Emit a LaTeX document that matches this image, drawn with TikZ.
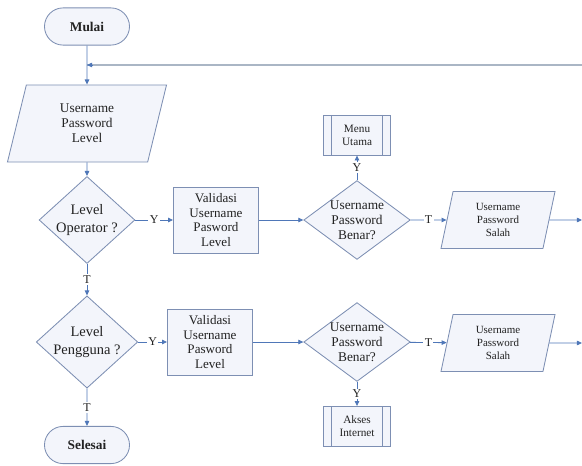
\documentclass[tikz,border=0pt]{standalone}
\usepackage{fontspec}
\setmainfont{LiberationSerif}[Extension=.ttf,UprightFont=*-Regular,BoldFont=*-Bold]
\usetikzlibrary{positioning,shapes.geometric,shapes.misc,arrows.meta}
\definecolor{rim}{HTML}{7D8FB3}
\definecolor{paper}{HTML}{F3F5FB}
\definecolor{flow}{HTML}{4F77B8}
\definecolor{loopback}{HTML}{AAB6C5}
\definecolor{ink}{HTML}{222222}

\begin{document}
\begin{tikzpicture}[x=0.025cm,y=-0.025cm,
        base/.style={draw=rim,fill=paper,line width=0.6pt,align=center,inner sep=0pt,text=ink},
        term/.style={base,rounded rectangle,minimum width=2.125cm,minimum height=0.93cm,
          font=\fontsize{9.5}{11}\selectfont\bfseries},
        io/.style={base,trapezium,trapezium stretches body,trapezium left angle=64,
          trapezium right angle=116,minimum width=3.975cm,minimum height=1.925cm,
          font=\fontsize{9.5}{10.6}\selectfont},
        iosmall/.style={base,trapezium,trapezium stretches body,trapezium left angle=70,
          trapezium right angle=110,minimum width=2.85cm,minimum height=1.425cm,
          font=\fontsize{7.8}{9.2}\selectfont},
        ask/.style={base,diamond,aspect=1.1,minimum width=2.125cm,minimum height=1.9cm,
          font=\fontsize{10.3}{12.8}\selectfont},
        check/.style={base,diamond,aspect=1.35,minimum width=2.6cm,minimum height=1.925cm,
          font=\fontsize{9.5}{10.6}\selectfont},
        proc/.style={base,rectangle,minimum width=2.125cm,minimum height=1.65cm,
          font=\fontsize{9.3}{10.6}\selectfont},
        sub/.style={base,rectangle,minimum width=1.675cm,minimum height=1cm,
          font=\fontsize{8}{9.2}\selectfont,
          path picture={
            \draw[rim,line width=0.5pt] ([xshift=5.7pt]path picture bounding box.north west)
              -- ([xshift=5.7pt]path picture bounding box.south west);
            \draw[rim,line width=0.5pt] ([xshift=-5.7pt]path picture bounding box.north east)
              -- ([xshift=-5.7pt]path picture bounding box.south east);}},
        arr/.style={flow,line width=0.6pt,-{Triangle[length=3.6pt,width=3.2pt]}},
        lab/.style={fill=white,inner sep=1pt,text=ink,font=\fontsize{8.5}{9}\selectfont}]
        \useasboundingbox (0,0) rectangle (582,465);
        \node[term] (mulai) at (87,26.5) {Mulai};
        \node[io] (input) at (87,123.5) {Username\\Password\\Level};
        \node[ask] (lvlop) at (87,220) {Level\\Operator ?};
        \node[proc] (val1) at (216,220) {Validasi\\Username\\Pasword\\Level};
        \node[check] (cek1) at (357,220) {Username\\Password\\Benar?};
        \node[sub] (menu) at (357,135) {Menu\\Utama};
        \node[iosmall] (salah1) at (498,220) {Username\\Password\\Salah};
        \node[ask] (lvlpg) at (87,342) {Level\\Pengguna ?};
        \node[proc] (val2) at (210,342) {Validasi\\Username\\Pasword\\Level};
        \node[check] (cek2) at (357,342) {Username\\Password\\Benar?};
        \node[iosmall] (salah2) at (498,343) {Username\\Password\\Salah};
        \node[sub] (akses) at (357,426.5) {Akses\\Internet};
        \node[term] (selesai) at (87,445) {Selesai};
        \coordinate (out1) at (582,220);
        \coordinate (out2) at (582,343);
        \coordinate (retin) at (87,65);
        \coordinate (retout) at (582,65);
        \draw[loopback,line width=0.9pt] (retout) -- (retin);
        \draw[arr] (retin) ++(6,0) -- (retin);
        \foreach \u/\w in {mulai/input,input/lvlop,val1/cek1,val2/cek2,salah1/out1,salah2/out2}
          \draw[arr] (\u)--(\w);
        \foreach \u/\w/\t in {lvlop/val1/Y,cek1/menu/Y,cek1/salah1/T,lvlop/lvlpg/T,
            lvlpg/val2/Y,cek2/salah2/T,cek2/akses/Y,lvlpg/selesai/T}
          \draw[arr] (\u)-- node[lab]{\t} (\w);
      \end{tikzpicture}
\end{document}
